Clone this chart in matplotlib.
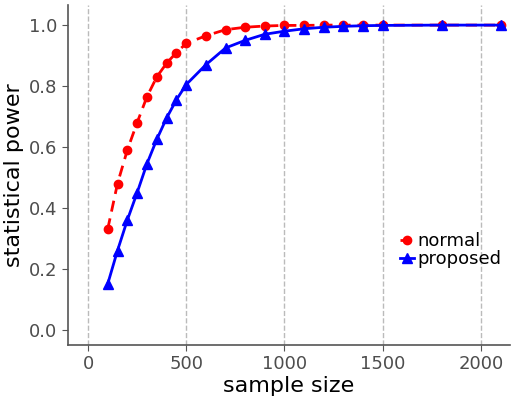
import matplotlib
matplotlib.use("Agg")
import matplotlib.pyplot as plt

n = [100,150,200,250,300,350,400,450,500,600,700,800,900,1000,1100,1200,1300,1400,1500,1800,2100]
normal = [0.33,0.48,0.59,0.68,0.765,0.83,0.875,0.91,0.94,0.965,0.985,0.993,0.997,0.999,0.999,1.0,1.0,1.0,1.0,1.0,1.0]
proposed = [0.15,0.26,0.36,0.45,0.545,0.625,0.695,0.755,0.805,0.87,0.925,0.95,0.97,0.98,0.988,0.993,0.996,0.998,0.999,1.0,1.0]

fig = plt.figure(figsize=(5.18,4.0), dpi=100)
ax = fig.add_axes([68/518, 55/400, 442/518, 340/400])
ax.plot(n, normal, color='red', ls='--', lw=2, marker='o', ms=6, label='normal', dashes=(4,2.5))
ax.plot(n, proposed, color='blue', ls='-', lw=2, marker='^', ms=7, label='proposed')
ax.set_xlim(-102, 2148)
ax.set_ylim(-0.05, 1.066)
ax.set_xticks([0,500,1000,1500,2000])
ax.set_yticks([0,0.2,0.4,0.6,0.8,1.0])
ax.set_yticklabels(['0.0','0.2','0.4','0.6','0.8','1.0'])
for x in [0,500,1000,1500,2000]:
    ax.axvline(x, color='#bbbbbb', ls='--', lw=1, zorder=0)
for s in ['top','right']:
    ax.spines[s].set_visible(False)
for s in ['left','bottom']:
    ax.spines[s].set_color('#555555'); ax.spines[s].set_linewidth(1.2)
ax.tick_params(labelsize=13, colors='#555555', labelcolor='#4d4d4d', length=4)
ax.set_xlabel('sample size', fontsize=16, labelpad=2)
ax.set_ylabel('statistical power', fontsize=16, labelpad=4)
ax.legend(loc='lower left', bbox_to_anchor=(0.73, 0.2), frameon=False, fontsize=13,
          handlelength=0.8, handletextpad=0.2, labelspacing=0.0, borderpad=0)
fig.savefig('out.png', dpi=100)
